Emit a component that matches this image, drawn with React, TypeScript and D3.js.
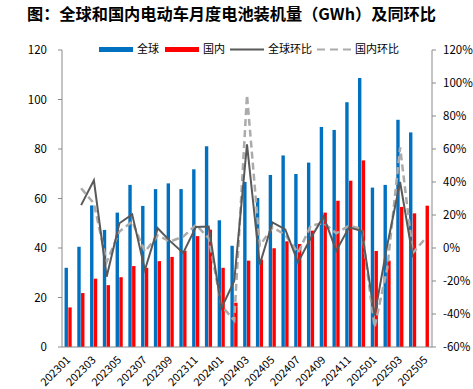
import React from 'react';
import * as d3 from 'd3';

const months = ['202301','202302','202303','202304','202305','202306','202307','202308','202309','202310','202311','202312','202401','202402','202403','202404','202405','202406','202407','202408','202409','202410','202411','202412','202501','202502','202503','202504','202505'];
const globalVals: (number | null)[] = [32, 40.5, 57.2, 47.3, 54.3, 65.5, 57, 63.8, 66.1, 63.8, 71.8, 81.1, 51.2, 40.9, 66.7, 60.2, 69.5, 77.4, 69.9, 74.5, 88.9, 87.7, 98.9, 108.7, 64.4, 65.5, 91.8, 86.7, null];
const domesticVals: (number | null)[] = [16, 21.8, 27.6, 25, 28.2, 32.7, 32, 34.7, 36.4, 38.9, 44.8, 47.4, 32, 17.9, 34.9, 35.3, 39.9, 42.7, 41.6, 47, 54.3, 59.1, 67.2, 75.4, 38.8, 34.9, 56.6, 54, 57.1];
const globalMoM: (number | null)[] = [null, 26, 41, -17.4, 15, 20.4, -13.3, 12, 4, -3, 12.8, 13, -36.5, -20, 62.8, -10, 15.5, 11.3, -8.7, 6, 19, -1.6, 12.5, 10.3, -40.8, 2, 40, -5.6, null];
const domesticMoM: (number | null)[] = [null, 36.2, 27, -8.5, 10, 16, -2.2, 7.5, 4, 6.9, 14, 6, -35, -43.8, 92.7, 1.5, 12.5, 8, -3, 13.5, 15.2, 8.9, 13.5, 11.5, -48, -12, 61, -3, 6];
const leftTicks = [0, 20, 40, 60, 80, 100, 120];
const rightTicks = [-60, -40, -20, 0, 20, 40, 60, 80, 100, 120];
const seriesNames = ['全球', '国内'];
const title = '图：全球和国内电动车月度电池装机量（GWh）及同环比';

const W = 473, H = 389;
const left = 62, right = 432, top = 50, bottom = 347;
const FONT = '"Noto Sans CJK SC", "Noto Sans", sans-serif';
const BLUE = '#0070C0', RED = '#FF0000', DARK = '#595959', LIGHT = '#ABABAB', AXIS = '#898989';

export default function App() {
  const x0 = d3.scaleBand<string>().domain(months).range([left, right]).padding(0);
  const bw = x0.bandwidth();
  const x1 = d3.scaleBand<string>().domain(seriesNames).range([bw * 0.2, bw * 0.76]).paddingInner(0.1);
  const yL = d3.scaleLinear().domain([0, 120]).range([bottom, top]);
  const yR = d3.scaleLinear().domain([-60, 120]).range([bottom, top]);
  const cx = (m: string) => (x0(m) as number) + bw / 2;

  const lineGen = (vals: (number | null)[]) =>
    d3.line<number | null>()
      .defined((d) => d !== null)
      .x((_, i) => cx(months[i]))
      .y((d) => yR(d as number))(vals) || '';

  const legendY = 49.5;
  const legendItems = [
    { name: '全球', type: 'rect', color: BLUE, x: 99 },
    { name: '国内', type: 'rect', color: RED, x: 165 },
    { name: '全球环比', type: 'line', color: DARK, x: 230 },
    { name: '国内环比', type: 'dash', color: LIGHT, x: 317 },
  ];

  return (
    <svg width={W} height={H} style={{ position: 'absolute', left: 0, top: 0, background: '#fff' }} fontFamily={FONT}>
      <text x={27} y={20} fontSize={16.2} fontWeight="bold" fill="#000">{title}</text>

      {/* bars */}
      {months.map((m, i) => (
        <g key={m}>
          {globalVals[i] !== null && (
            <rect x={(x0(m) as number) + (x1('全球') as number)} y={yL(globalVals[i] as number)} width={x1.bandwidth()} height={bottom - yL(globalVals[i] as number)} fill={BLUE} />
          )}
          {domesticVals[i] !== null && (
            <rect x={(x0(m) as number) + (x1('国内') as number)} y={yL(domesticVals[i] as number)} width={x1.bandwidth()} height={bottom - yL(domesticVals[i] as number)} fill={RED} />
          )}
        </g>
      ))}

      {/* lines */}
      <path d={lineGen(domesticMoM)} fill="none" stroke={LIGHT} strokeWidth={2.5} strokeDasharray="7,4" />
      <path d={lineGen(globalMoM)} fill="none" stroke={DARK} strokeWidth={2} />

      {/* axes */}
      <line x1={left} x2={left} y1={top} y2={bottom} stroke={AXIS} />
      <line x1={right} x2={right} y1={top} y2={bottom} stroke={AXIS} />
      <line x1={left} x2={right} y1={bottom} y2={bottom} stroke={AXIS} />
      {leftTicks.map((t) => (
        <g key={'l' + t}>
          <line x1={left - 4} x2={left} y1={yL(t)} y2={yL(t)} stroke={AXIS} />
          <text x={47} y={yL(t)} dy="0.35em" textAnchor="end" fontSize={11.5} fill="#000">{t}</text>
        </g>
      ))}
      {rightTicks.map((t) => (
        <g key={'r' + t}>
          <line x1={right} x2={right + 4} y1={yR(t)} y2={yR(t)} stroke={AXIS} />
          <text x={443} y={yR(t)} dy="0.35em" textAnchor="start" fontSize={11.5} fill="#000">{t + '%'}</text>
        </g>
      ))}
      {months.map((m, i) => i % 2 === 0 ? (
        <text key={'x' + m} transform={`translate(${cx(m)},${bottom + 11}) rotate(-45)`} textAnchor="end" dy="0.35em" fontSize={11} fill="#000">{m}</text>
      ) : null)}

      {/* legend */}
      {legendItems.map((it) => (
        <g key={it.name}>
          {it.type === 'rect' && <rect x={it.x} y={legendY - 2.5} width={34} height={5} fill={it.color} />}
          {it.type === 'line' && <line x1={it.x} x2={it.x + 34} y1={legendY} y2={legendY} stroke={it.color} strokeWidth={2} />}
          {it.type === 'dash' && <line x1={it.x} x2={it.x + 34} y1={legendY} y2={legendY} stroke={it.color} strokeWidth={2} strokeDasharray="8,5" />}
          <text x={it.x + 38} y={legendY} dy="0.35em" fontSize={11} fill="#000">{it.name}</text>
        </g>
      ))}
    </svg>
  );
}
